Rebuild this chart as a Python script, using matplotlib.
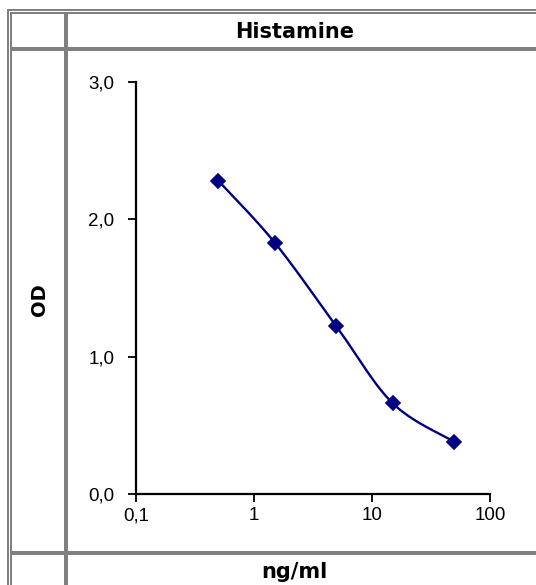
import numpy as np
import matplotlib
matplotlib.use("Agg")
import matplotlib.pyplot as plt
from matplotlib.patches import Rectangle
from matplotlib.ticker import FixedLocator, FixedFormatter, NullLocator

# ---- data ----
concentration = [0.5, 1.5, 5, 15, 50]          # ng/ml
od_values = [2.28, 1.83, 1.22, 0.66, 0.38]    # OD
x_ticks = [0.1, 1, 10, 100]
x_tick_labels = ["0,1", "1", "10", "100"]
y_ticks = [0.0, 1.0, 2.0, 3.0]
y_tick_labels = ["0,0", "1,0", "2,0", "3,0"]
title = "Histamine"
x_title = "ng/ml"
y_title = "OD"

W, H = 536, 585
DPI = 100
fig = plt.figure(figsize=(W / DPI, H / DPI), dpi=DPI)
fig.patch.set_facecolor("white")

# ---- table-like frame (pixel coordinates) ----
bg = fig.add_axes([0, 0, 1, 1])
bg.set_xlim(0, W)
bg.set_ylim(H, 0)
bg.axis("off")
bg.set_zorder(-1)
grey = "#808080"
frame = [
    (7, 9, W - 7, 1.5),      # outer top
    (7, 9, 1.5, H - 9),      # outer left
    (10, 12, W - 10, 1.5),   # inner top
    (10, 12, 1.5, H - 12),   # inner left
    (64, 12, 4, H - 12),     # column divider
    (10, 47, W - 10, 4),     # header row line
    (10, 551, W - 10, 4),    # footer row line
]
for (x0, y0, w, h) in frame:
    bg.add_patch(Rectangle((x0, y0), w, h, facecolor=grey, edgecolor="none"))

bold = dict(family="DejaVu Sans", fontweight="bold", color="black")
fig.text(295 / W, 1 - 38 / H, title, ha="center", va="baseline", fontsize=15, **bold)
fig.text(294 / W, 1 - 578 / H, x_title, ha="center", va="baseline", fontsize=15, **bold)
fig.text(39 / W, 1 - 300 / H, y_title, ha="center", va="center", rotation=90, fontsize=14, **bold)

# ---- chart ----
left, right = 136 / W, 490 / W
top, bottom = 1 - 82 / H, 1 - 494 / H
ax = fig.add_axes([left, bottom, right - left, top - bottom])
ax.set_xscale("log")
ax.set_xlim(x_ticks[0], x_ticks[-1])
ax.set_ylim(y_ticks[0], y_ticks[-1])
ax.patch.set_alpha(0)

# smoothed curve (Catmull-Rom style Bezier in log-x space, like Excel's smoothing)
u = np.log10(np.array(concentration, dtype=float))
v = np.array(od_values, dtype=float)
P = np.column_stack([u, v])
n = len(P)
curve = []
t = np.linspace(0, 1, 40)[:, None]
for i in range(n - 1):
    p0 = P[i]
    p3 = P[i + 1]
    pm = P[i - 1] if i > 0 else P[i]
    pp = P[i + 2] if i + 2 < n else P[i + 1]
    c1 = p0 + (p3 - pm) / 6.0
    c2 = p3 - (pp - p0) / 6.0
    seg = ((1 - t) ** 3) * p0 + 3 * ((1 - t) ** 2) * t * c1 + 3 * (1 - t) * t ** 2 * c2 + t ** 3 * p3
    curve.append(seg if i == 0 else seg[1:])
curve = np.vstack(curve)
navy = "#000080"
ax.plot(10 ** curve[:, 0], curve[:, 1], color=navy, lw=1.7, solid_capstyle="round", zorder=2)
ax.plot(concentration, od_values, linestyle="none", marker="D", markersize=7.5,
        markerfacecolor=navy, markeredgecolor=navy, markeredgewidth=1.2, zorder=3)

for s in ["top", "right"]:
    ax.spines[s].set_visible(False)
for s in ["left", "bottom"]:
    ax.spines[s].set_linewidth(1.6)
    ax.spines[s].set_color("black")

ax.xaxis.set_major_locator(FixedLocator(x_ticks))
ax.xaxis.set_major_formatter(FixedFormatter(x_tick_labels))
ax.xaxis.set_minor_locator(NullLocator())
ax.yaxis.set_major_locator(FixedLocator(y_ticks))
ax.yaxis.set_major_formatter(FixedFormatter(y_tick_labels))
ax.tick_params(axis="both", direction="out", length=5.5, width=1.3, color="black",
               labelsize=13.5, labelcolor="black")
ax.tick_params(axis="x", pad=4)
ax.tick_params(axis="y", pad=10)
for lab in ax.get_xticklabels() + ax.get_yticklabels():
    lab.set_fontfamily("Liberation Sans")
for s in ax.spines.values():
    s.set_clip_on(False)

fig.savefig("out.png", dpi=DPI, facecolor="white")
